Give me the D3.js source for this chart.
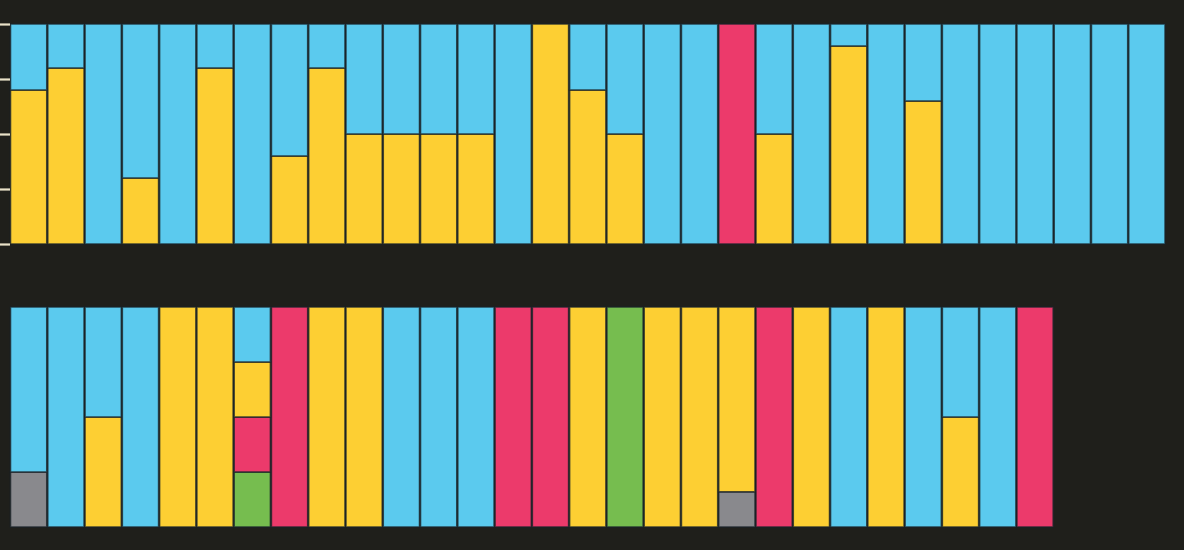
<!DOCTYPE html>
<html><head><meta charset="utf-8">
<script src="https://cdn.jsdelivr.net/npm/d3@7"></script>
<style>html,body{margin:0;padding:0;background:#1f1f1b;}svg{display:block;}</style>
</head><body>
<svg id="c" width="1184" height="550"></svg>
<script>
// Stack order (bottom to top)
const keys = ["gray","green","red","yellow","blue"];
const colors = ["#89898d","#76bd4f","#ec3a6b","#fdcf33","#5bcaee"];
const slots = d3.range(31);
const ticks = [0, 0.25, 0.5, 0.75, 1];

// Top row: shares per bar
const topGray   = [0,0,0,0,0,0,0,0,0,0,0,0,0,0,0,0,0,0,0,0,0,0,0,0,0,0,0,0,0,0,0];
const topGreen  = [0,0,0,0,0,0,0,0,0,0,0,0,0,0,0,0,0,0,0,0,0,0,0,0,0,0,0,0,0,0,0];
const topRed    = [0,0,0,0,0,0,0,0,0,0,0,0,0,0,0,0,0,0,0,1,0,0,0,0,0,0,0,0,0,0,0];
const topYellow = [0.7,0.8,0,0.3,0,0.8,0,0.4,0.8,0.5,0.5,0.5,0.5,0,1,0.7,0.5,0,0,0,0.5,0,0.9,0,0.65,0,0,0,0,0,0];

// Bottom row: shares per bar
const botGray   = [0.25,0,0,0,0,0,0,0,0,0,0,0,0,0,0,0,0,0,0,0.16,0,0,0,0,0,0,0,0];
const botGreen  = [0,0,0,0,0,0,0.25,0,0,0,0,0,0,0,0,0,1,0,0,0,0,0,0,0,0,0,0,0];
const botRed    = [0,0,0,0,0,0,0.25,1,0,0,0,0,0,1,1,0,0,0,0,0,1,0,0,0,0,0,0,1];
const botYellow = [0,0,0.5,0,1,1,0.25,0,1,1,0,0,0,0,0,1,0,1,1,0.84,0,1,0,1,0,0.5,0,0];

function build(g, gr, r, y) {
  return g.map((_, i) => {
    const o = {i, gray: g[i], green: gr[i], red: r[i], yellow: y[i]};
    o.blue = Math.max(0, 1 - o.gray - o.green - o.red - o.yellow);
    return o;
  });
}
const topData = build(topGray, topGreen, topRed, topYellow);
const botData = build(botGray, botGreen, botRed, botYellow);

const svg = d3.select("#c");
const x = d3.scaleBand().domain(slots).range([10, 1165.5]).padding(0);
const color = d3.scaleOrdinal().domain(keys).range(colors);
const stack = d3.stack().keys(keys);

function drawRow(data, y0, y1, withAxis) {
  const y = d3.scaleLinear().domain([0, 1]).range([y1, y0]);
  const g = svg.append("g");
  const series = stack(data);
  g.selectAll("g.s").data(series).join("g").attr("class","s")
    .attr("fill", d => color(d.key))
    .selectAll("rect").data(d => d.filter(p => p[1] - p[0] > 0))
    .join("rect")
    .attr("x", d => x(d.data.i) + 0.5)
    .attr("width", x.bandwidth() - 1)
    .attr("y", d => y(d[1]))
    .attr("height", d => y(d[0]) - y(d[1]))
    .attr("stroke", "rgba(25,35,40,0.75)")
    .attr("stroke-width", 1.6);
  if (withAxis) {
    const ax = svg.append("g").attr("transform", "translate(10,0)")
      .call(d3.axisLeft(y).tickValues(ticks).tickSize(10).tickFormat(""));
    ax.select(".domain").remove();
    ax.selectAll(".tick line").attr("stroke", "#e9e2c9").attr("stroke-width", 2.2);
  }
}
drawRow(topData, 24, 244, true);
drawRow(botData, 307, 527, false);
</script>
</body></html>
